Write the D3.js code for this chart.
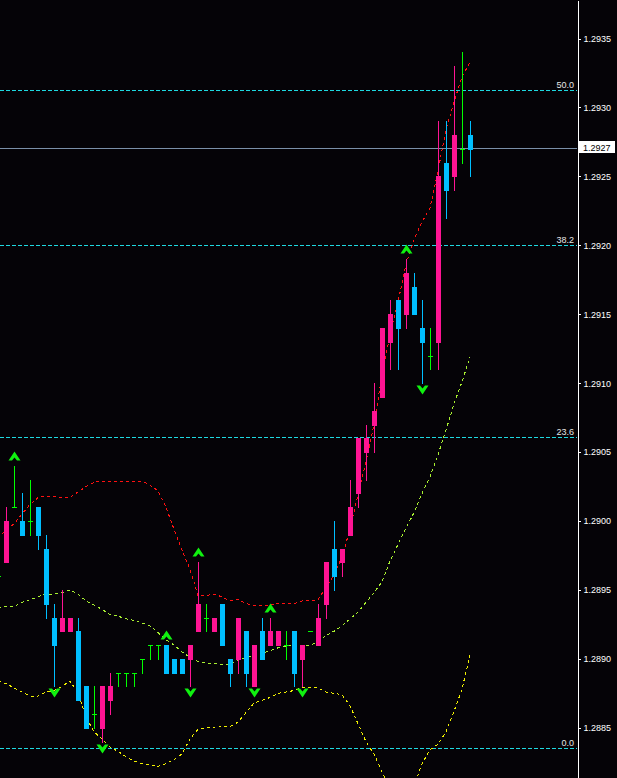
<!DOCTYPE html>
<html><head><meta charset="utf-8">
<script src="https://cdn.jsdelivr.net/npm/d3@7/dist/d3.min.js"></script>
<style>html,body{margin:0;padding:0;background:#050307;overflow:hidden}svg{display:block}</style>
</head><body><svg id="c" width="617" height="778"></svg>
<script>
// ---- data (bar index, OHLC) ----
const bars = [-1,0,1,2,3,4,5,6,7,8,9,10,11,12,13,14,15,16,17,18,19,20,21,22,23,24,25,26,27,28,29,30,31,32,33,34,35,36,37,38,39,40,41,42,43,44,45,46,47,48,49,50,51,52,53,54,55,56,57,58];
const opens  = [1.2896,1.2897,1.2901,1.2900,1.2900,1.2901,1.2898,1.2893,1.2892,1.2892,1.2892,1.2888,1.2886,1.2885,1.2887,1.2889,1.2889,1.2889,1.2890,1.2891,1.2891,1.2891,1.2890,1.2890,1.2890,1.2892,1.2893,1.2892,1.2894,1.2890,1.2890,1.2892,1.2888,1.2892,1.2891,1.2891,1.2891,1.2892,1.2890,1.2892,1.2891,1.2894,1.2898,1.2897,1.2899,1.2902,1.2905,1.2907,1.2909,1.2913,1.2916,1.2915,1.2917,1.2914,1.2912,1.2913,1.2926,1.2925,1.2927,1.2928];
const highs  = [1.2896,1.2901,1.2904,1.2902,1.2903,1.2901,1.2899,1.2894,1.2895,1.2893,1.2893,1.2888,1.2888,1.2888,1.2889,1.2889,1.2889,1.2889,1.2890,1.2891,1.2891,1.2891,1.2890,1.2890,1.2891,1.2897,1.2894,1.2893,1.2894,1.2890,1.2893,1.2892,1.2891,1.2893,1.2893,1.2892,1.2892,1.2892,1.2891,1.2892,1.2894,1.2897,1.2900,1.2898,1.2903,1.2906,1.2907,1.2910,1.2914,1.2916,1.2916,1.2919,1.2918,1.2916,1.2914,1.2929,1.2929,1.2933,1.2934,1.2929];
const lows   = [1.2896,1.2897,1.2901,1.2899,1.2899,1.2898,1.2893,1.2888,1.2892,1.2892,1.2887,1.2885,1.2885,1.2884,1.2886,1.2888,1.2888,1.2888,1.2889,1.2890,1.2890,1.2889,1.2889,1.2889,1.2888,1.2892,1.2892,1.2892,1.2891,1.2888,1.2889,1.2888,1.2888,1.2890,1.2891,1.2891,1.2890,1.2888,1.2888,1.2892,1.2891,1.2893,1.2895,1.2896,1.2899,1.2901,1.2903,1.2905,1.2909,1.2911,1.2911,1.2914,1.2915,1.2910,1.2911,1.2911,1.2922,1.2924,1.2926,1.2925];
const closes = [1.2896,1.2900,1.2901,1.2899,1.2900,1.2899,1.2894,1.2891,1.2893,1.2893,1.2887,1.2885,1.2886,1.2888,1.2888,1.2889,1.2889,1.2889,1.2890,1.2891,1.2891,1.2889,1.2889,1.2889,1.2891,1.2894,1.2893,1.2893,1.2891,1.2889,1.2893,1.2889,1.2891,1.2890,1.2892,1.2892,1.2891,1.2889,1.2891,1.2892,1.2893,1.2897,1.2896,1.2898,1.2901,1.2906,1.2906,1.2908,1.2914,1.2915,1.2914,1.2918,1.2915,1.2913,1.2912,1.2925,1.2924,1.2928,1.2927,1.2927];
// ---- bands (upper red, middle green, lower yellow) ----
const upperBand  = [1.28988,1.28993,1.28998,1.29005,1.29012,1.29017,1.29018,1.29018,1.29017,1.29017,1.29021,1.29025,1.29028,1.29029,1.29029,1.29029,1.29029,1.29029,1.29029,1.29026,1.29022,1.29010,1.28994,1.28979,1.28965,1.28946,1.28946,1.28947,1.28945,1.28942,1.28943,1.28940,1.28939,1.28939,1.28939,1.28940,1.28940,1.28940,1.28942,1.28942,1.28943,1.28952,1.28961,1.28974,1.28994,1.29019,1.29043,1.29070,1.29106,1.29135,1.29159,1.29186,1.29204,1.29217,1.29227,1.29254,1.29284,1.29304,1.29322,1.29333];
const middleBand = [1.28937,1.28938,1.28938,1.28941,1.28943,1.28945,1.28947,1.28947,1.28948,1.28950,1.28947,1.28942,1.28939,1.28936,1.28932,1.28931,1.28929,1.28928,1.28926,1.28924,1.28919,1.28914,1.28910,1.28905,1.28901,1.28898,1.28897,1.28897,1.28896,1.28896,1.28899,1.28901,1.28902,1.28904,1.28906,1.28908,1.28909,1.28910,1.28910,1.28910,1.28912,1.28917,1.28920,1.28924,1.28929,1.28934,1.28941,1.28948,1.28956,1.28971,1.28983,1.28995,1.29006,1.29020,1.29032,1.29048,1.29066,1.29085,1.29101,1.29119];
const lowerBand  = [1.28884,1.28882,1.28879,1.28876,1.28873,1.28873,1.28876,1.28877,1.28880,1.28884,1.28875,1.28858,1.28847,1.28842,1.28836,1.28833,1.28829,1.28826,1.28824,1.28823,1.28822,1.28824,1.28827,1.28831,1.28842,1.28849,1.28850,1.28850,1.28851,1.28851,1.28854,1.28861,1.28868,1.28870,1.28872,1.28875,1.28876,1.28877,1.28879,1.28879,1.28879,1.28876,1.28875,1.28874,1.28866,1.28853,1.28840,1.28831,1.28818,1.28807,1.28802,1.28802,1.28808,1.28824,1.28834,1.28838,1.28847,1.28862,1.28878,1.28903];
// ---- fractal markers (bar indices) ----
const fractalUp   = [1,20,24,33,50];
const fractalDown = [6,12,23,31,37,52];
// ---- fibonacci levels ----
const fibLabels = ["0.0","23.6","38.2","50.0"];
const fibPrices = [1.28835,1.29061,1.29200,1.29313];
// ---- price axis ----
const tickValues = [1.2885,1.2890,1.2895,1.2900,1.2905,1.2910,1.2915,1.2920,1.2925,1.2930,1.2935];
const lastPrice = 1.2927;

const W = 617, H = 778, axisX = 577;
const BULL = "#ff1493", BEAR = "#00bfff", DOJI = "#00ff00";
const svg = d3.select("#c");
svg.append("rect").attr("width", W).attr("height", H).attr("fill", "#050307");

const x = d3.scaleLinear().domain([0, 58]).range([6, 470]);
const y = d3.scaleLinear().domain([1.2881359, 1.2937793]).range([H, 0]);
const X = i => Math.round(x(i));
const Y = p => Math.round(y(p));

// fib lines
const fibG = svg.append("g");
fibPrices.forEach((p, k) => {
  fibG.append("line").attr("x1", 0).attr("x2", axisX).attr("y1", Y(p) + 0.5).attr("y2", Y(p) + 0.5)
    .attr("stroke", "#1ed8e0").attr("stroke-width", 1).attr("stroke-dasharray", "4,2");
  svg.append("text").attr("x", axisX - 3).attr("y", Y(p) - 2).attr("text-anchor", "end")
    .attr("fill", "#e6e6e6").attr("font-family", "Liberation Sans, Arial, sans-serif").attr("font-size", 9)
    .text(fibLabels[k]);
});

const plot = svg.append("g").attr("shape-rendering", "crispEdges");

// current price line
plot.append("line").attr("x1", 0).attr("x2", axisX).attr("y1", Y(lastPrice) - 0.5).attr("y2", Y(lastPrice) - 0.5)
  .attr("stroke", "#7a8fa8");

// bands
const bandDefs = [[upperBand, "#ff1010"], [middleBand, "#a8f030"], [lowerBand, "#f0f000"]];
bandDefs.forEach(([vals, col]) => {
  const line = d3.line().x((d, k) => x(bars[k])).y(d => y(d));
  plot.append("path").attr("d", line(vals)).attr("fill", "none").attr("stroke", col)
    .attr("stroke-width", 1).attr("stroke-dasharray", "3,3");
});

// candles
bars.forEach((b, k) => {
  const o = opens[k], h = highs[k], l = lows[k], c = closes[k];
  const xc = X(b);
  if (o === c) {
    plot.append("line").attr("x1", xc + 0.5).attr("x2", xc + 0.5).attr("y1", Y(h)).attr("y2", Y(l) + 1).attr("stroke", DOJI);
    plot.append("line").attr("x1", xc - 2).attr("x2", xc + 3).attr("y1", Y(o) + 0.5).attr("y2", Y(o) + 0.5).attr("stroke", DOJI);
  } else {
    const col = c > o ? BULL : BEAR;
    plot.append("line").attr("x1", xc + 0.5).attr("x2", xc + 0.5).attr("y1", Y(h)).attr("y2", Y(l) + 1).attr("stroke", col);
    const top = Y(Math.max(o, c)), bot = Y(Math.min(o, c));
    plot.append("rect").attr("x", xc - 2).attr("y", top).attr("width", 5).attr("height", Math.max(1, bot - top + 1)).attr("fill", col);
  }
});

// fractal arrows
const upPath = "M0,-4.5 L6,4.5 L2.5,4.5 L0,1.5 L-2.5,4.5 L-6,4.5 Z";
const dnPath = "M0,4.5 L6,-4.5 L2.5,-4.5 L0,-1.5 L-2.5,-4.5 L-6,-4.5 Z";
fractalUp.forEach(i => {
  const k = bars.indexOf(i);
  svg.append("path").attr("d", upPath).attr("fill", "#10f010")
    .attr("transform", `translate(${X(i) + 0.5},${Y(highs[k]) - 10})`);
});
fractalDown.forEach(i => {
  const k = bars.indexOf(i);
  svg.append("path").attr("d", dnPath).attr("fill", "#10f010")
    .attr("transform", `translate(${X(i) + 0.5},${Y(lows[k]) + 7})`);
});

// price axis
const axis = d3.axisRight(y).tickValues(tickValues).tickFormat(d3.format(".4f"))
  .tickSize(3).tickPadding(3).tickSizeOuter(0);
const ag = svg.append("g").attr("transform", `translate(${axisX + 0.5},0)`).call(axis);
ag.attr("shape-rendering", "crispEdges");
ag.select(".domain").attr("stroke", "#ffffff");
ag.selectAll(".tick line").attr("stroke", "#ffffff");
ag.selectAll(".tick text").attr("fill", "#ffffff").attr("font-family", "Liberation Sans, Arial, sans-serif").attr("font-size", 9);

// last price label
const ly = Y(lastPrice);
svg.append("rect").attr("x", 579).attr("y", ly - 8).attr("width", 36).attr("height", 12).attr("fill", "#ffffff");
svg.append("text").attr("x", 583).attr("y", ly + 2).attr("fill", "#000000")
  .attr("font-family", "Liberation Sans, Arial, sans-serif").attr("font-size", 9).text(d3.format(".4f")(lastPrice));
</script></body></html>
